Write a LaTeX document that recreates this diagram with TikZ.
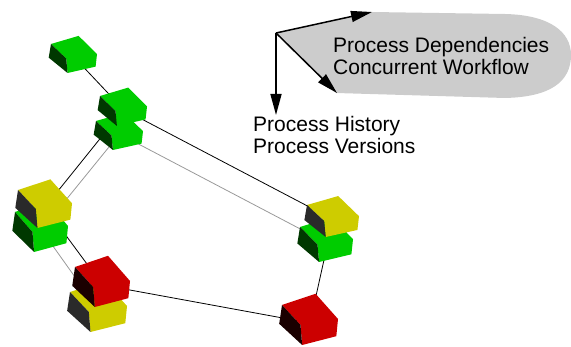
\documentclass[tikz,border=0pt]{standalone}
\usepackage{fontspec}
\setmainfont{Liberation Sans}
\usetikzlibrary{arrows.meta,backgrounds}
\definecolor{verGreen}{RGB}{0,204,0}
\definecolor{verGreenSide}{RGB}{0,56,0}
\definecolor{verYellow}{RGB}{206,204,0}
\definecolor{verYellowSide}{RGB}{42,42,42}
\definecolor{verRed}{RGB}{204,0,0}
\definecolor{verRedSide}{RGB}{26,0,0}

% one version box: name, corner, width, height, colour
\newcommand{\versionbox}[5]{%
  \begin{scope}[shift={#2}, xscale=#3, yscale=#4]
    \fill[#5] (0,0) -- (0.6,-0.28) -- (1,0.35) -- (0.97,0.78) -- (0.36,1) -- (0.33,0.5) -- cycle;
    \fill[#5Side] (0,0) -- (0.33,0.5) -- (0.36,1) -- (-0.05,0.47) -- cycle;
    \coordinate (#1) at (0.5,0.45);
  \end{scope}}

\tikzset{
  axis label/.style={font=\fontsize{21}{22}\selectfont, align=left, inner sep=0pt, anchor=north west},
  axis arrow/.style={line width=1.5pt, -{Triangle[length=21pt,width=11pt]}},
  upper link/.style={black, line width=0.8pt},
  lower link/.style={black!40, line width=0.8pt}
}

\begin{document}
\begin{tikzpicture}[x=1pt, y=-1pt]
  \useasboundingbox (0,0) rectangle (571,347);

  % the cloud with its text
  \fill[black!20] (276,33) -- (372,12) -- (505,14) .. controls (550,15) and (571,32) .. (571,55)
    .. controls (571,82) and (550,97) .. (505,98) -- (336,93) -- cycle;
  \node[axis label] (depLabel) at (333,37) {Process Dependencies\\Concurrent Workflow};
  \node[axis label] (histLabel) at (253,116) {Process History\\Process Versions};

  \coordinate (axis) at (276,33);
  \coordinate (depTip) at (372,12);
  \coordinate (concTip) at (337,93);
  \coordinate (histTip) at (276,115);
  \draw[axis arrow] (axis) -- (depTip);
  \draw[axis arrow] (axis) -- (concTip);
  \draw[axis arrow] (axis) -- (histTip);

  % versions, lower ones first
  \versionbox{topG}{(51,44)}{46}{29}{verGreen}
  \versionbox{midGb}{(96,121)}{47}{29}{verGreen}
  \versionbox{midGa}{(100,96)}{47}{30}{verGreen}
  \versionbox{leftG}{(15,212)}{53}{40}{verGreen}
  \versionbox{leftY}{(18,190)}{54}{38}{verYellow}
  \versionbox{lowY}{(70,292)}{57}{40}{verYellow}
  \versionbox{lowR}{(75,267)}{55}{40}{verRed}
  \versionbox{rightG}{(300,227)}{53}{35}{verGreen}
  \versionbox{rightY}{(307,205)}{52}{32}{verYellow}
  \versionbox{endR}{(282,305)}{56}{40}{verRed}

  \begin{pgfonlayer}{background}
    \draw[upper link] (topG) -- (midGa);
    \draw[upper link] (midGa) -- (rightY);
    \draw[upper link] (midGa) -- (leftY);
    \draw[upper link] (leftY) -- (lowR);
    \draw[upper link] (lowR) -- (endR);
    \draw[upper link] (rightY) -- (endR);
    \draw[lower link] (midGb) -- (rightG);
    \draw[lower link] (midGb) -- (leftG);
    \draw[lower link] (leftG) -- (lowY);
  \end{pgfonlayer}
\end{tikzpicture}
\end{document}
